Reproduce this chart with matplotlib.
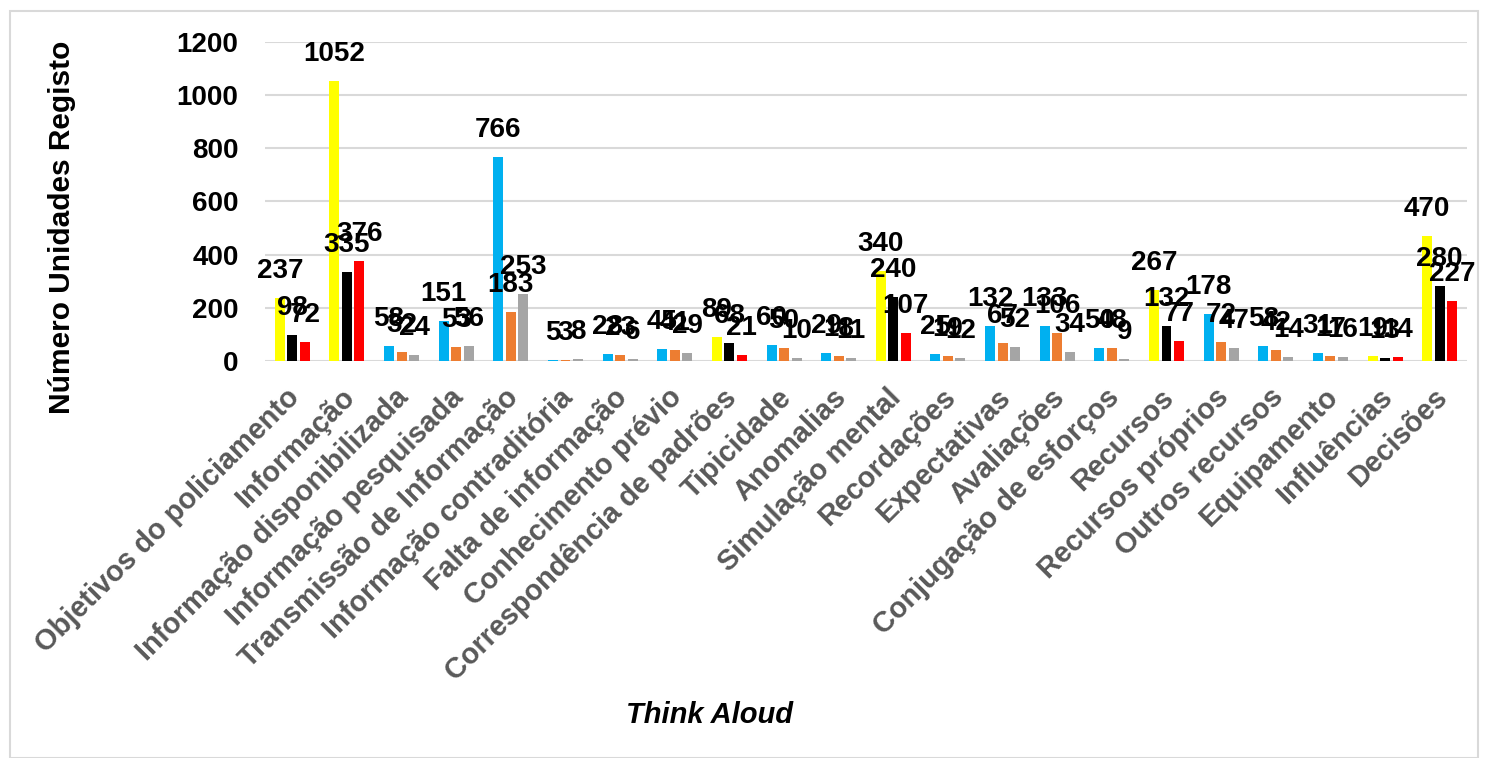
import numpy as np
import matplotlib
matplotlib.use("Agg")
import matplotlib.pyplot as plt
import matplotlib.transforms as mtransforms
from matplotlib.patches import Rectangle

plt.rcParams['font.family'] = ['Liberation Sans', 'DejaVu Sans']

categorias = ['Objetivos do policiamento', 'Informação', 'Informação disponibilizada',
              'Informação pesquisada', 'Transmissão de Informação', 'Informação contraditória',
              'Falta de informação', 'Conhecimento prévio', 'Correspondência de padrões',
              'Tipicidade', 'Anomalias', 'Simulação mental', 'Recordações', 'Expectativas',
              'Avaliações', 'Conjugação de esforços', 'Recursos', 'Recursos próprios',
              'Outros recursos', 'Equipamento', 'Influências', 'Decisões']
serie1 = [237, 1052, 58, 151, 766, 5, 28, 45, 89, 60, 29, 340, 25, 132, 133, 50, 267, 178, 58, 31, 19, 470]
serie2 = [98, 335, 32, 53, 183, 3, 23, 41, 68, 50, 18, 240, 19, 67, 106, 48, 132, 72, 42, 17, 13, 280]
serie3 = [72, 376, 24, 56, 253, 8, 6, 29, 21, 10, 11, 107, 12, 52, 34, 9, 77, 47, 14, 16, 14, 227]
# 'a' = amarelo/preto/vermelho, 'b' = azul/laranja/cinza
grupo = ['a', 'a', 'b', 'b', 'b', 'b', 'b', 'b', 'a', 'b', 'b', 'a', 'b', 'b', 'b', 'b',
         'a', 'b', 'b', 'b', 'a', 'a']

cores = {'a': ['#FFFF00', '#000000', '#FF0000'],
         'b': ['#00B0F0', '#ED7D31', '#A5A5A5']}

W, H = 1487, 758
fig = plt.figure(figsize=(W / 100, H / 100), dpi=100)
fig.patches.append(Rectangle((10 / W, 0), (1478 - 10) / W, 1 - 11 / H,
                             transform=fig.transFigure, fill=False,
                             edgecolor='#d9d9d9', linewidth=1.5))

ax = fig.add_axes([265 / W, 1 - 361 / H, (1467 - 265) / W, (361 - 41.7) / H])

x = np.arange(len(categorias))
larg = 0.183
desl = 0.229
for k, serie in enumerate([serie1, serie2, serie3]):
    cs = [cores[g][k] for g in grupo]
    pos = x + (k - 1) * desl
    ax.bar(pos, serie, width=larg, color=cs, zorder=3)
    for xi, v in zip(pos, serie):
        ax.annotate(str(v), (xi, v), xytext=(0, 27), textcoords='offset pixels',
                    ha='center', va='center', fontsize=20, fontweight='bold',
                    color='black', zorder=5)

ax.set_xlim(-0.5, len(categorias) - 0.5)
ax.set_ylim(0, 1200)
ax.set_yticks(range(0, 1201, 200))
ax.yaxis.grid(True, color='#d9d9d9', linewidth=1.5, zorder=0)
ax.set_axisbelow(True)
for s in ax.spines.values():
    s.set_visible(False)
ax.tick_params(axis='both', length=0)
ax.tick_params(axis='y', pad=19, labelsize=20)
for t in ax.get_yticklabels():
    t.set_fontweight('bold')

ax.set_xticks(x)
ax.set_xticklabels(categorias, rotation=45, ha='right', rotation_mode='anchor',
                   fontsize=20.8, fontweight='bold', color='#595959')
ax.tick_params(axis='x', pad=16)
desloc = mtransforms.ScaledTranslation(-7 / 100, 0, fig.dpi_scale_trans)
for t in ax.get_xticklabels():
    t.set_transform(t.get_transform() + desloc)

fig.text(62 / W, 1 - 227 / H, 'Número Unidades Registo', rotation=90,
         ha='center', va='center', fontsize=21.5, fontweight='bold')
fig.text(710 / W, 1 - 715 / H, 'Think Aloud', ha='center', va='center',
         fontsize=21, fontweight='bold', fontstyle='italic')

fig.savefig('out.png', dpi=100)
